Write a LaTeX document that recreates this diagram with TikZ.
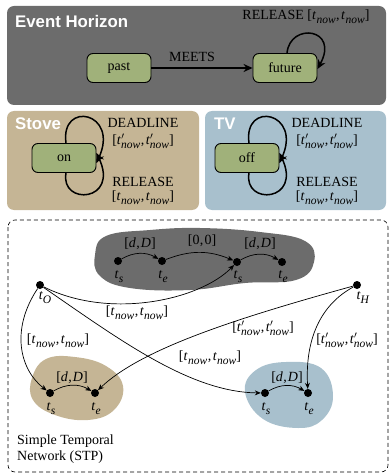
\documentclass[tikz,border=0pt]{standalone}
\usepackage{amsmath}
\usepackage{fontspec}
\setmainfont{Liberation Serif}
\newfontfamily\titlefont{Liberation Sans}
\usetikzlibrary{arrows.meta}
\newcommand\subt[1]{\raisebox{-0.28em}{\fontsize{11.5}{12}\selectfont\textit{#1}}}
\newcommand\tnw{\textit{t}\kern0.3pt\subt{now}}
\newcommand\tnwp{\textit{t}\rlap{\kern0.3pt$'$}\subt{now}}
\newcommand\tint{[\tnw\kern0.5pt,\kern1.5pt\tnw]}
\newcommand\tintp{[\tnwp\kern0.5pt,\kern1.5pt\tnwp]}
\newcommand\dD{[\textit{d}\kern0.5pt,\kern1pt\textit{D}]}
\definecolor{panelgray}{RGB}{108,108,108}
\definecolor{stategreen}{RGB}{160,177,122}
\definecolor{stovetan}{RGB}{197,181,149}
\definecolor{tvblue}{RGB}{168,192,205}
\tikzset{
  x=1pt,y=-1pt,
  every node/.style={font=\fontsize{14}{15.5}\selectfont},
  panel/.style={rounded corners=7pt},
  ptitle/.style={text=white,font=\titlefont\bfseries\fontsize{16.8}{18}\selectfont,anchor=west,inner sep=0},
  state/.style={draw=black,fill=stategreen,rounded corners=6pt,minimum width=64pt,minimum height=29pt,line width=0.9pt,inner sep=0},
  bigarrow/.style={line width=1.5pt,-{Stealth[length=9pt,width=8pt]}},
  lbl/.style={inner sep=0,align=center},
  dot/.style={circle,fill=black,inner sep=0,minimum size=8pt},
  stpedge/.style={line width=0.7pt,-{Stealth[length=6pt,width=5pt]}},
  small/.style={inner sep=0}
}
\begin{document}
\begin{tikzpicture}
\useasboundingbox (0,0) rectangle (389,473);
% ---- Event horizon panel
\fill[panelgray,panel] (7,6) rectangle (386,105);
\node[ptitle] (ehtitle) at (15,21) {Event Horizon};
\node[state] (past) at (119,68) {past};
\node[state] (future) at (285,68) {future};
\draw[bigarrow] (past) -- (future);
\node[lbl] (meets) at (192,57) {MEETS};
\draw[bigarrow] ([xshift=2pt]future.north) .. controls (290,22) and (340,28) .. ([yshift=-1pt]future.east);
\node[lbl] (rel1) at (306,17) {RELEASE \tint};
% ---- Stove panel
\fill[stovetan,panel] (7,111) rectangle (199,210);
\node[ptitle] (stovetitle) at (15,124) {Stove};
\node[state] (on) at (64,158) {on};
\draw[bigarrow] ([xshift=2pt]on.north) .. controls (60,100) and (120,112) .. ([yshift=-5pt]on.east);
\draw[bigarrow] ([xshift=2pt]on.south) .. controls (60,206) and (120,202) .. ([yshift=5pt]on.east);
\node[lbl] (sdl) at (143,123) {DEADLINE};
\node[lbl] (sdlv) at (143,141) {\tintp};
\node[lbl] (srl) at (143,182) {RELEASE};
\node[lbl] (srlv) at (143,198) {\tint};
% ---- TV panel
\fill[tvblue,panel] (205,111) rectangle (386,210);
\node[ptitle] (tvtitle) at (214,124) {TV};
\node[state] (off) at (247,158) {off};
\draw[bigarrow] ([xshift=2pt]off.north) .. controls (243,100) and (303,112) .. ([yshift=-5pt]off.east);
\draw[bigarrow] ([xshift=2pt]off.south) .. controls (243,206) and (303,202) .. ([yshift=5pt]off.east);
\node[lbl] (tdl) at (327,123) {DEADLINE};
\node[lbl] (tdlv) at (327,141) {\tintp};
\node[lbl] (trl) at (327,182) {RELEASE};
\node[lbl] (trlv) at (327,198) {\tint};
% ---- STP panel
\draw[dashed,line width=0.6pt,rounded corners=7pt,dash pattern=on 4pt off 3pt] (8,220) rectangle (388,472);
\fill[panelgray] plot[smooth cycle,tension=0.7] coordinates {(95,255) (106,236) (150,230) (200,228) (260,232) (305,241) (314,262) (296,280) (245,283) (190,290) (130,288) (100,276)};
\fill[stovetan] plot[smooth cycle,tension=0.7] coordinates {(32,378) (46,359) (75,357) (106,366) (123,386) (114,410) (88,420) (55,415) (33,400)};
\fill[tvblue] plot[smooth cycle,tension=0.7] coordinates {(245,392) (256,370) (286,362) (321,368) (333,396) (322,420) (298,428) (263,419)};
% nodes
\node[dot] (ts1) at (118,261) {};
\node[dot] (te1) at (162,261) {};
\node[dot] (ts2) at (237,262) {};
\node[dot] (te2) at (282,262) {};
\node[dot] (tO) at (40,285) {};
\node[dot] (tH) at (357,285) {};
\node[dot] (sts) at (50,393) {};
\node[dot] (ste) at (95,393) {};
\node[dot] (vts) at (265,393) {};
\node[dot] (vte) at (308,393) {};
% node labels
\node[small] (ts1l) at (119,277) {\textit{t}\subt{s}};
\node[small] (te1l) at (163,277) {\textit{t}\subt{e}};
\node[small] (ts2l) at (238,277) {\textit{t}\subt{s}};
\node[small] (te2l) at (283,277) {\textit{t}\subt{e}};
\node[small] (tOl) at (45,298) {\textit{t}\subt{O}};
\node[small] (tHl) at (363,298) {\textit{t}\subt{H}};
\node[small] (stsl) at (51,409) {\textit{t}\subt{s}};
\node[small] (stel) at (96,409) {\textit{t}\subt{e}};
\node[small] (vtsl) at (266,409) {\textit{t}\subt{s}};
\node[small] (vtel) at (309,409) {\textit{t}\subt{e}};
% edges inside blobs
\draw[stpedge] (ts1) to[bend left=30] (te1);
\draw[stpedge] (te1) to[bend left=22] (ts2);
\draw[stpedge] (ts2) to[bend left=30] (te2);
\draw[stpedge] (sts) to[bend left=30] (ste);
\draw[stpedge] (vts) to[bend left=30] (vte);
\node[small] (l1) at (140,244) {\dD};
\node[small] (l2) at (202,241) {[0\kern0.5pt,\kern1pt0]};
\node[small] (l3) at (260,244) {\dD};
\node[small] (l4) at (72,378) {\dD};
\node[small] (l5) at (287,378) {\dD};
% cross edges
\draw[stpedge] (tO) .. controls (110,320) and (200,300) .. (ts2);
\draw[stpedge] (tO) .. controls (10,330) and (20,370) .. (sts);
\draw[stpedge] (tO) .. controls (120,340) and (190,392) .. (vts);
\draw[stpedge] (tH) .. controls (230,320) and (140,350) .. (ste);
\draw[stpedge] (tH) .. controls (320,305) and (305,340) .. (vte);
\node[small] (c1) at (137,313) {\tint};
\node[small] (c2) at (58,341) {\tint};
\node[small] (c3) at (210,358) {\tint};
\node[small] (c4) at (263,328) {\tintp};
\node[small] (c5) at (347,340) {\tintp};
\node[small,align=left,anchor=west] (stp) at (17,449) {Simple Temporal\\Network (STP)};
\end{tikzpicture}
\end{document}
